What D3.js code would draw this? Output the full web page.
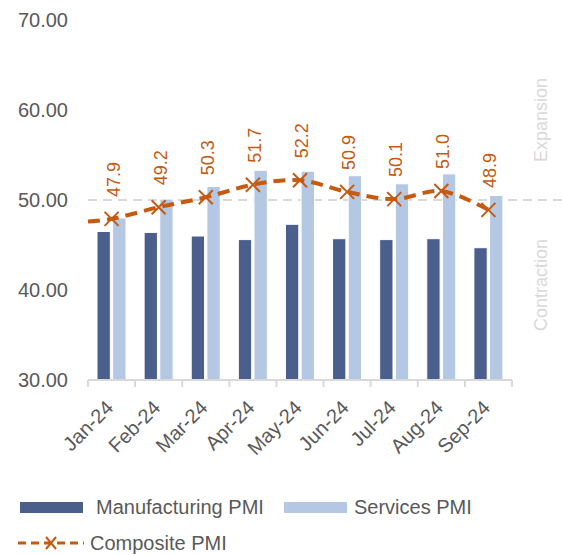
<!doctype html>
<meta charset="utf-8" />
<script src="https://cdn.jsdelivr.net/npm/d3@7/dist/d3.min.js"></script>
<style>
    body {
        margin: 0;
        background: white;
    }

    text {
        font-family: "Liberation Sans", Arial, sans-serif;
        fill: #595959;
    }

    svg {
        display: block
    }
</style>
<svg id="chart"></svg>
<script>
    var months = ['Jan-24', 'Feb-24', 'Mar-24', 'Apr-24', 'May-24', 'Jun-24', 'Jul-24', 'Aug-24', 'Sep-24'];
    var manufacturing = [46.5, 46.4, 46.0, 45.6, 47.3, 45.7, 45.6, 45.7, 44.7];
    var services = [48.0, 50.1, 51.5, 53.3, 53.2, 52.7, 51.8, 52.9, 50.5];
    var composite = [47.9, 49.2, 50.3, 51.7, 52.2, 50.9, 50.1, 51.0, 48.9];
    var compositeLead = 47.6;
    var yTicks = [30, 40, 50, 60, 70];
    var threshold = 50;

    var width = 562,
        height = 555;

    var svg = d3.select('svg#chart')
        .attr('width', width)
        .attr('height', height);

    var x = d3.scaleBand()
        .domain(months)
        .range([88, 512]);

    var x1 = d3.scaleBand()
        .domain(['m', 's'])
        .range([9, 38])
        .paddingInner(0.15);

    var y = d3.scaleLinear()
        .domain([30, 70])
        .range([380, 20]);

    var cx = d => x(d) + x.bandwidth() / 2;

    // y axis labels
    svg.append('g')
        .attr('transform', 'translate(88,0)')
        .call(d3.axisLeft(y).tickValues(yTicks).tickFormat(d3.format('.2f')).tickSize(0).tickPadding(20))
        .call(g => g.select('.domain').remove())
        .selectAll('text')
        .style('font-size', '20px')
        .style('fill', '#595959');

    // 50 threshold line
    svg.append('line')
        .attr('x1', x.range()[0])
        .attr('x2', width)
        .attr('y1', y(threshold))
        .attr('y2', y(threshold))
        .style('stroke', '#D9D9D9')
        .style('stroke-width', 2)
        .style('stroke-dasharray', '9,6');

    // bars
    var groups = svg.selectAll('g.month')
        .data(months)
        .enter()
        .append('g')
        .attr('class', 'month')
        .attr('transform', d => 'translate(' + x(d) + ',0)');

    groups.append('rect')
        .attr('x', x1('m'))
        .attr('width', x1.bandwidth())
        .attr('y', (d, i) => y(manufacturing[i]))
        .attr('height', (d, i) => y(30) - y(manufacturing[i]))
        .style('fill', '#4A5F8C')
        .style('stroke', '#ffffff')
        .style('stroke-width', 1);

    groups.append('rect')
        .attr('x', x1('s'))
        .attr('width', x1.bandwidth())
        .attr('y', (d, i) => y(services[i]))
        .attr('height', (d, i) => y(30) - y(services[i]))
        .style('fill', '#B4C7E3')
        .style('stroke', '#ffffff')
        .style('stroke-width', 1);

    // x axis
    var xAxis = svg.append('g');
    xAxis.append('line')
        .attr('x1', x.range()[0])
        .attr('x2', x.range()[1])
        .attr('y1', y(30))
        .attr('y2', y(30))
        .style('stroke', '#D9D9D9')
        .style('stroke-width', 2);

    xAxis.selectAll('line.tick')
        .data(months.concat(['end']))
        .enter()
        .append('line')
        .attr('class', 'tick')
        .attr('x1', (d, i) => x.range()[0] + i * x.step())
        .attr('x2', (d, i) => x.range()[0] + i * x.step())
        .attr('y1', y(30))
        .attr('y2', y(30) + 7)
        .style('stroke', '#D9D9D9')
        .style('stroke-width', 2);

    xAxis.selectAll('text')
        .data(months)
        .enter()
        .append('text')
        .attr('transform', d => 'translate(' + (cx(d) + 3) + ',' + (y(30) + 29) + ') rotate(-45)')
        .attr('text-anchor', 'end')
        .style('font-size', '20px')
        .text(d => d);

    // composite line
    var pts = [[x.range()[0], y(compositeLead)]].concat(months.map((m, i) => [cx(m), y(composite[i])]));

    svg.append('path')
        .datum(pts)
        .attr('d', d3.line().curve(d3.curveCatmullRom))
        .style('fill', 'none')
        .style('stroke', '#C55A11')
        .style('stroke-width', 4)
        .style('stroke-dasharray', '12,7');

    var cross = 7;
    svg.selectAll('path.marker')
        .data(months)
        .enter()
        .append('path')
        .attr('class', 'marker')
        .attr('d', (d, i) => {
            var px = cx(d), py = y(composite[i]);
            return 'M' + (px - cross) + ',' + (py - cross) + 'L' + (px + cross) + ',' + (py + cross) +
                'M' + (px - cross) + ',' + (py + cross) + 'L' + (px + cross) + ',' + (py - cross);
        })
        .style('stroke', '#C55A11')
        .style('stroke-width', 2);

    svg.selectAll('text.label')
        .data(months)
        .enter()
        .append('text')
        .attr('class', 'label')
        .attr('transform', (d, i) => 'translate(' + (cx(d) + 8) + ',' + (y(composite[i]) - 22) + ') rotate(-90)')
        .style('font-size', '18px')
        .style('fill', '#C55A11')
        .text((d, i) => composite[i].toFixed(1));

    // expansion / contraction
    svg.append('text')
        .attr('transform', 'translate(547,120) rotate(-90)')
        .attr('text-anchor', 'middle')
        .style('font-size', '18px')
        .style('fill', '#D9D9D9')
        .text('Expansion');

    svg.append('text')
        .attr('transform', 'translate(547,285) rotate(-90)')
        .attr('text-anchor', 'middle')
        .style('font-size', '18px')
        .style('fill', '#D9D9D9')
        .text('Contraction');

    // legend
    var legend = svg.append('g');
    legend.append('rect')
        .attr('x', 20).attr('y', 502).attr('width', 63).attr('height', 11)
        .style('fill', '#4A5F8C');
    legend.append('text')
        .attr('x', 96).attr('y', 514)
        .style('font-size', '20px')
        .text('Manufacturing PMI');

    legend.append('rect')
        .attr('x', 284).attr('y', 502).attr('width', 63).attr('height', 11)
        .style('fill', '#B4C7E3');
    legend.append('text')
        .attr('x', 354).attr('y', 514)
        .style('font-size', '20px')
        .text('Services PMI');

    legend.append('line')
        .attr('x1', 18).attr('x2', 84).attr('y1', 543).attr('y2', 543)
        .style('stroke', '#C55A11')
        .style('stroke-width', 3)
        .style('stroke-dasharray', '8,5');
    legend.append('path')
        .attr('d', 'M46,537L56,549M46,549L56,537')
        .style('stroke', '#C55A11')
        .style('stroke-width', 2);
    legend.append('text')
        .attr('x', 90).attr('y', 550)
        .style('font-size', '20px')
        .text('Composite PMI');
</script>
